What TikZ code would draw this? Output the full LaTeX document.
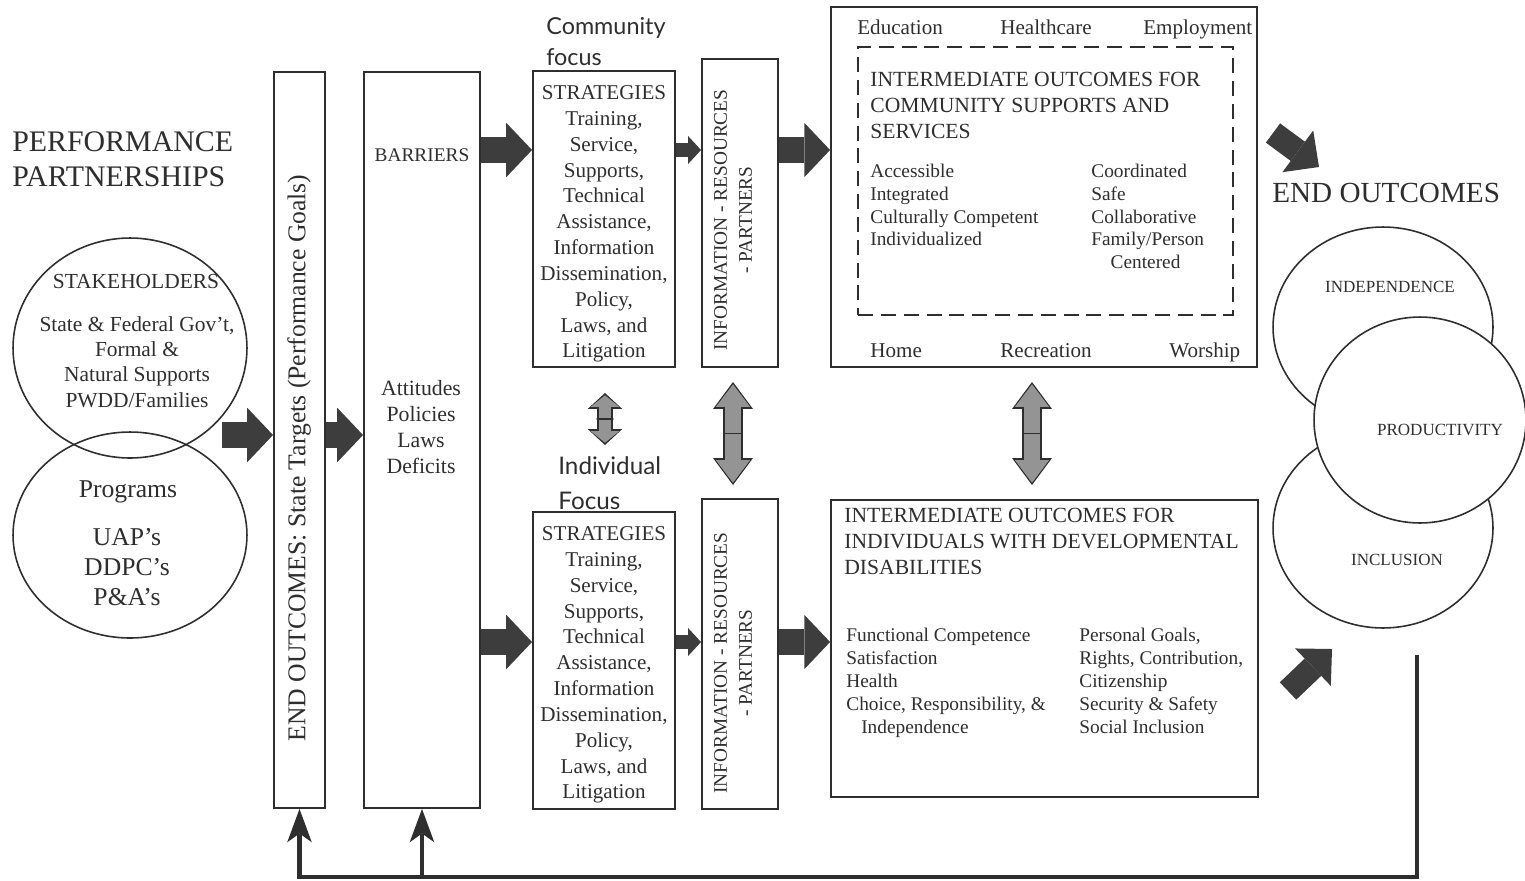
\documentclass[tikz,border=0pt]{standalone}
\usepackage{fontspec}
\setmainfont{Liberation Serif}
\newfontfamily\focusfont{Lato}
\usetikzlibrary{shapes.geometric, arrows.meta}
\definecolor{ink}{gray}{0.18}
\definecolor{darkfill}{gray}{0.24}
\definecolor{midfill}{gray}{0.58}

\begin{document}
\begin{tikzpicture}[x=0.02cm, y=-0.02cm,
    boxStyle/.style={draw=ink, line width=1.1pt, rectangle, inner sep=0pt},
    ovalStyle/.style={draw=ink, line width=0.9pt, ellipse, inner sep=0pt},
    textStyle/.style={text=ink, inner sep=0pt, align=center, font=\fontsize{12}{14.7}\selectfont},
    listStyle/.style={text=ink, inner sep=0pt, align=left, anchor=north west, font=\fontsize{11}{12.9}\selectfont},
    bigArrow/.style={draw=darkfill, line width=15.3pt, -{Triangle[length=14.7pt, width=31pt, line width=0pt]}},
    smallArrow/.style={draw=darkfill, line width=7.9pt, -{Triangle[length=7.4pt, width=16pt, line width=0pt]}},
    diagArrow/.style={draw=darkfill, line width=13.6pt, -{Triangle[length=15pt, width=29.5pt, line width=0pt]}},
    dblSmall/.style={
        preaction={draw=ink, line width=9.5pt, shorten <=0pt, shorten >=0pt,
            {Triangle[length=9pt, width=19.5pt, line width=0pt]}-{Triangle[length=9pt, width=19.5pt, line width=0pt]}},
        draw=midfill, line width=7.3pt, shorten <=1.3pt, shorten >=1.3pt,
        {Triangle[length=6.6pt, width=16.3pt, line width=0pt]}-{Triangle[length=6.6pt, width=16.3pt, line width=0pt]}},
    dblBig/.style={
        preaction={draw=ink, line width=11.3pt, shorten <=0pt, shorten >=0pt,
            {Triangle[length=15.3pt, width=22.7pt, line width=0pt]}-{Triangle[length=15.3pt, width=22.7pt, line width=0pt]}},
        draw=midfill, line width=9.1pt, shorten <=1.3pt, shorten >=1.3pt,
        {Triangle[length=12.9pt, width=19.5pt, line width=0pt]}-{Triangle[length=12.9pt, width=19.5pt, line width=0pt]}},
    midBar/.style={draw=ink, line width=1.1pt, inner sep=0pt, minimum height=0pt},
    fbLine/.style={draw=ink, line width=2.8pt},
    fbTip/.style={-{Stealth[length=19pt, width=14pt, inset=5pt, line width=0pt]}}]

    \useasboundingbox (0,0) rectangle (1525,880);

    \node[textStyle, anchor=north west, align=left, font=\fontsize{17}{20.4}\selectfont] (perf) at (12,131) {PERFORMANCE\\PARTNERSHIPS};

    \node[ovalStyle, minimum width=4.68cm, minimum height=4.4cm] (stake) at (130,348) {};
    \node[ovalStyle, minimum width=4.68cm, minimum height=4.12cm] (prog) at (130,535) {};
    \node[textStyle, font=\fontsize{12.2}{14.4}\selectfont] (stakeTitle) at (136,282) {STAKEHOLDERS};
    \node[textStyle, font=\fontsize{12.2}{14.4}\selectfont] (stakeText) at (137,362) {State \& Federal Gov't,\\Formal \&\\Natural Supports\\PWDD/Families};
    \node[textStyle, font=\fontsize{14.6}{17}\selectfont] (progTitle) at (128,492) {Programs};
    \node[textStyle, font=\fontsize{14.6}{17}\selectfont] (progText) at (127,567) {UAP's\\DDPC's\\P\&A's};

    \node[boxStyle, minimum width=1.02cm, minimum height=14.72cm] (eo) at (299.5,440) {};
    \node[textStyle, rotate=90, font=\fontsize{14.6}{17}\selectfont] (eoText) at (299,458) {END OUTCOMES: State Targets (Performance Goals)};

    \node[boxStyle, minimum width=2.32cm, minimum height=14.72cm] (bar) at (422,440) {};
    \node[textStyle, font=\fontsize{11}{13}\selectfont] (barTitle) at (422,155) {BARRIERS};
    \node[textStyle, font=\fontsize{12.4}{14.7}\selectfont] (barText) at (421,427) {Attitudes\\Policies\\Laws\\Deficits};

    \node[anchor=north west, align=left, inner sep=0pt, text=ink, font=\focusfont\fontsize{13.3}{17.6}\selectfont] (commFocus) at (546,17) {Community\\focus};
    \node[anchor=north west, align=left, inner sep=0pt, text=ink, font=\focusfont\fontsize{13.8}{19.8}\selectfont] (indFocus) at (558,456) {Individual\\Focus};

    \node[boxStyle, minimum width=2.84cm, minimum height=5.92cm] (strat1) at (604,219) {};
    \node[textStyle] (strat1Text) at (604,224) {STRATEGIES\\Training,\\Service,\\Supports,\\Technical\\Assistance,\\Information\\Dissemination,\\Policy,\\Laws, and\\Litigation};
    \node[boxStyle, minimum width=2.84cm, minimum height=5.94cm] (strat2) at (604,660.5) {};
    \node[textStyle] (strat2Text) at (604,665) {STRATEGIES\\Training,\\Service,\\Supports,\\Technical\\Assistance,\\Information\\Dissemination,\\Policy,\\Laws, and\\Litigation};

    \node[boxStyle, minimum width=1.52cm, minimum height=6.16cm] (info1) at (740,213) {};
    \node[textStyle, rotate=90, font=\fontsize{11}{14.2}\selectfont] (info1Text) at (733,220) {INFORMATION - RESOURCES\\- PARTNERS};
    \node[boxStyle, minimum width=1.52cm, minimum height=6.2cm] (info2) at (740,654) {};
    \node[textStyle, rotate=90, font=\fontsize{11}{14.2}\selectfont] (info2Text) at (733,663) {INFORMATION - RESOURCES\\- PARTNERS};

    \node[boxStyle, minimum width=8.52cm, minimum height=7.2cm] (comm) at (1044,187) {};
    \node[boxStyle, dash pattern=on 8.5pt off 4.5pt, minimum width=7.5cm, minimum height=5.36cm] (commDash) at (1045.5,181) {};
    \node[textStyle, anchor=base west] (edu) at (857,34) {Education};
    \node[textStyle, anchor=base west] (health) at (1000,34) {Healthcare};
    \node[textStyle, anchor=base west] (employ) at (1143,34) {Employment};
    \node[textStyle, anchor=base west] (home) at (870,357) {Home};
    \node[textStyle, anchor=base west] (recr) at (1000,357) {Recreation};
    \node[textStyle, anchor=base west] (worship) at (1169,357) {Worship};
    \node[listStyle, font=\fontsize{12.3}{14.7}\selectfont] (commTitle) at (870,72) {INTERMEDIATE OUTCOMES FOR\\COMMUNITY SUPPORTS AND\\SERVICES};
    \node[listStyle] (commLeft) at (870,164) {Accessible\\Integrated\\Culturally Competent\\Individualized};
    \node[listStyle] (commRight) at (1091,164) {Coordinated\\Safe\\Collaborative\\Family/Person\\\hspace*{11pt}Centered};

    \node[boxStyle, minimum width=8.54cm, minimum height=5.94cm] (indiv) at (1044.5,648.5) {};
    \node[listStyle, font=\fontsize{12.3}{14.7}\selectfont] (indivTitle) at (844,508) {INTERMEDIATE OUTCOMES FOR\\INDIVIDUALS WITH DEVELOPMENTAL\\DISABILITIES};
    \node[listStyle, font=\fontsize{11}{13.1}\selectfont] (indivLeft) at (846,628) {Functional Competence\\Satisfaction\\Health\\Choice, Responsibility, \&\\\hspace*{8.5pt}Independence};
    \node[listStyle, font=\fontsize{11}{13.1}\selectfont] (indivRight) at (1079,628) {Personal Goals,\\Rights, Contribution,\\Citizenship\\Security \& Safety\\Social Inclusion};

    \node[textStyle, anchor=west, font=\fontsize{16.6}{20}\selectfont] (endOut) at (1272,193) {END OUTCOMES};
    \node[ovalStyle, minimum width=4.4cm, minimum height=4cm] (indep) at (1383,327) {};
    \node[ovalStyle, minimum width=4.4cm, minimum height=4cm] (incl) at (1383,528) {};
    \node[ovalStyle, fill=white, minimum width=4.24cm, minimum height=4.12cm] (prod) at (1420,420) {};
    \node[textStyle, font=\fontsize{9.7}{12}\selectfont] (indepText) at (1390,287) {INDEPENDENCE};
    \node[textStyle, font=\fontsize{9.7}{12}\selectfont] (prodText) at (1440,430) {PRODUCTIVITY};
    \node[textStyle, font=\fontsize{9.7}{12}\selectfont] (inclText) at (1397,560) {INCLUSION};

    \coordinate (rowA) at (0,150);
    \coordinate (rowB) at (0,642);
    \coordinate (rowC) at (222,435);
    \draw[bigArrow] (rowC) -- (eo.west |- rowC);
    \draw[bigArrow] (eo.east |- rowC) -- (bar.west |- rowC);
    \draw[bigArrow] (bar.east |- rowA) -- (strat1.west |- rowA);
    \draw[smallArrow] (strat1.east |- rowA) -- (info1.west |- rowA);
    \draw[bigArrow] (info1.east |- rowA) -- (comm.west |- rowA);
    \draw[bigArrow] (bar.east |- rowB) -- (strat2.west |- rowB);
    \draw[smallArrow] (strat2.east |- rowB) -- (info2.west |- rowB);
    \draw[bigArrow] (info2.east |- rowB) -- (indiv.west |- rowB);

    \coordinate (dA1) at (605,393);
    \coordinate (dA2) at (605,445);
    \coordinate (dB1) at (733,382);
    \coordinate (dB2) at (733,485);
    \coordinate (dC1) at (1032,382);
    \coordinate (dC2) at (1032,485);
    \draw[dblSmall] (dA1) -- (dA2);
    \draw[dblBig] (dB1) -- (dB2);
    \draw[dblBig] (dC1) -- (dC2);
    \path (dA1) -- node[midBar, minimum width=9.5pt] (barA) {} (dA2);
    \path (dB1) -- node[midBar, minimum width=11.3pt] (barB) {} (dB2);
    \path (dC1) -- node[midBar, minimum width=11.3pt] (barC) {} (dC2);

    \coordinate (endA) at (1273,133);
    \coordinate (endB) at (1319,167);
    \coordinate (endC) at (1288,691);
    \coordinate (endD) at (1332,649);
    \draw[diagArrow] (endA) -- (endB);
    \draw[diagArrow] (endC) -- (endD);

    \coordinate (fbTop) at (1417,655);
    \coordinate (fbCorner) at (1417,877);
    \draw[fbLine, fbTip] (fbTop) -- (fbCorner) -| (eo.south);
    \draw[fbLine, fbTip] (bar.south |- fbCorner) -- (bar.south);
\end{tikzpicture}
\end{document}
